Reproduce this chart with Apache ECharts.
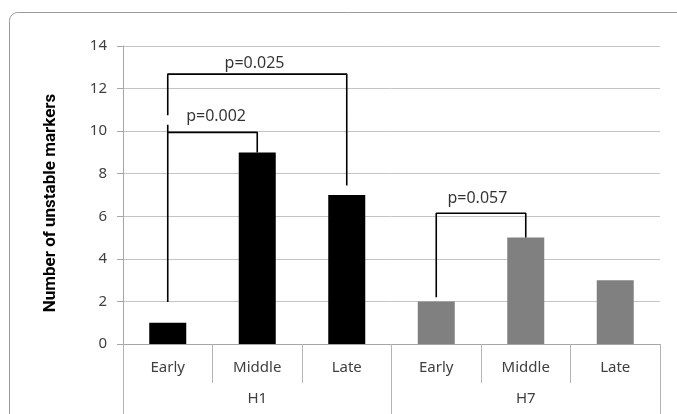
<!DOCTYPE html>
<html>
<head>
<meta charset="utf-8">
<script src="https://cdn.jsdelivr.net/npm/echarts@6/dist/echarts.min.js"></script>
<style>
html,body{margin:0;padding:0;background:#fff;}
#c{width:677px;height:414px;}
</style>
</head>
<body>
<div id="c"></div>
<script>
// ---- data ----
var categories = ['Early', 'Middle', 'Late', 'Early', 'Middle', 'Late'];
var groups = ['H1', 'H7'];
var h1Values = [1, 9, 7];
var h7Values = [2, 5, 3];
var yTitle = 'Number of unstable markers';
// brackets in [category position, value]
var bracket025 = [[0, 10.75], [0, 12.68], [2, 12.68], [2, 7.45]];
var bracket002Left = [[0, 10.3], [0, 1.97]];
var bracket002 = [[0, 9.94], [1, 9.94], [1, 9]];
var bracket057 = [[3, 2.2], [3, 6.14], [4, 6.14], [4, 5]];
var pLabels = [
  { text: 'p=0.025', pos: [0.97, 13.18] },
  { text: 'p=0.002', pos: [0.54, 10.68] },
  { text: 'p=0.057', pos: [3.46, 6.86] }
];

var h1Series = h1Values.concat(h7Values.map(function () { return null; }));
var h7Series = h1Values.map(function () { return null; }).concat(h7Values);

function bracketSeries(pts) {
  return {
    type: 'line', xAxisIndex: 2, yAxisIndex: 0, data: pts,
    symbol: 'none', silent: true, animation: false,
    lineStyle: { color: '#000', width: 1.6 }, z: 5
  };
}

var chart = echarts.init(document.getElementById('c'), null, { renderer: 'canvas' });
var font = 'Noto Sans';
chart.setOption({
  animation: false,
  backgroundColor: '#fff',
  graphic: [{
    type: 'rect', z: -10,
    shape: { x: 9.5, y: 12.5, width: 720, height: 460, r: 8 },
    style: { fill: 'none', stroke: '#9a9a9a', lineWidth: 1 }
  }, {
    type: 'text', x: 51, y: 203, rotation: Math.PI / 2,
    style: {
      text: yTitle, align: 'center', verticalAlign: 'middle',
      font: 'bold 17px Roboto', fill: '#000'
    }
  }],
  grid: { left: 123, right: 17, top: 46, bottom: 70, containLabel: false },
  xAxis: [
    {
      type: 'category', data: categories, position: 'bottom',
      axisLine: { show: true, lineStyle: { color: '#a6a6a6', width: 1 } },
      axisTick: { show: true, interval: 0, length: 39, lineStyle: { color: '#b4b4b4' } },
      axisLabel: { interval: 0, margin: 16, color: '#404040', fontSize: 15, fontFamily: font },
      splitLine: { show: false }
    },
    {
      type: 'category', data: groups, position: 'bottom',
      axisLine: { show: false },
      axisTick: { show: true, interval: 0, length: 70, lineStyle: { color: '#b4b4b4' } },
      axisLabel: { interval: 0, margin: 47, color: '#404040', fontSize: 15, fontFamily: font },
      splitLine: { show: false }
    },
    {
      type: 'value', min: -0.5, max: 5.5, show: false, position: 'top'
    }
  ],
  yAxis: [{
    type: 'value', min: 0, max: 14, interval: 2,
    axisLine: { show: true, onZero: false, lineStyle: { color: '#a6a6a6' } },
    axisTick: { show: true, length: 6, lineStyle: { color: '#a6a6a6' } },
    axisLabel: { margin: 16, color: '#404040', fontSize: 15, fontFamily: font },
    splitLine: { show: true, lineStyle: { color: '#c4c4c4', width: 1 } }
  }],
  series: [
    {
      name: 'H1', type: 'bar', xAxisIndex: 0, data: h1Series,
      barWidth: 37, barGap: '-100%', itemStyle: { color: '#000' }
    },
    {
      name: 'H7', type: 'bar', xAxisIndex: 0, data: h7Series,
      barWidth: 37, barGap: '-100%', itemStyle: { color: '#808080' }
    },
    bracketSeries(bracket025),
    bracketSeries(bracket002Left),
    bracketSeries(bracket002),
    bracketSeries(bracket057),
    {
      type: 'scatter', xAxisIndex: 2, yAxisIndex: 0, symbolSize: 0, silent: true,
      data: pLabels.map(function (p) { return { value: p.pos, name: p.text }; }),
      label: {
        show: true, position: 'inside', formatter: '{b}',
        color: '#000', fontSize: 16, fontFamily: font
      }
    }
  ]
});
</script>
</body>
</html>
